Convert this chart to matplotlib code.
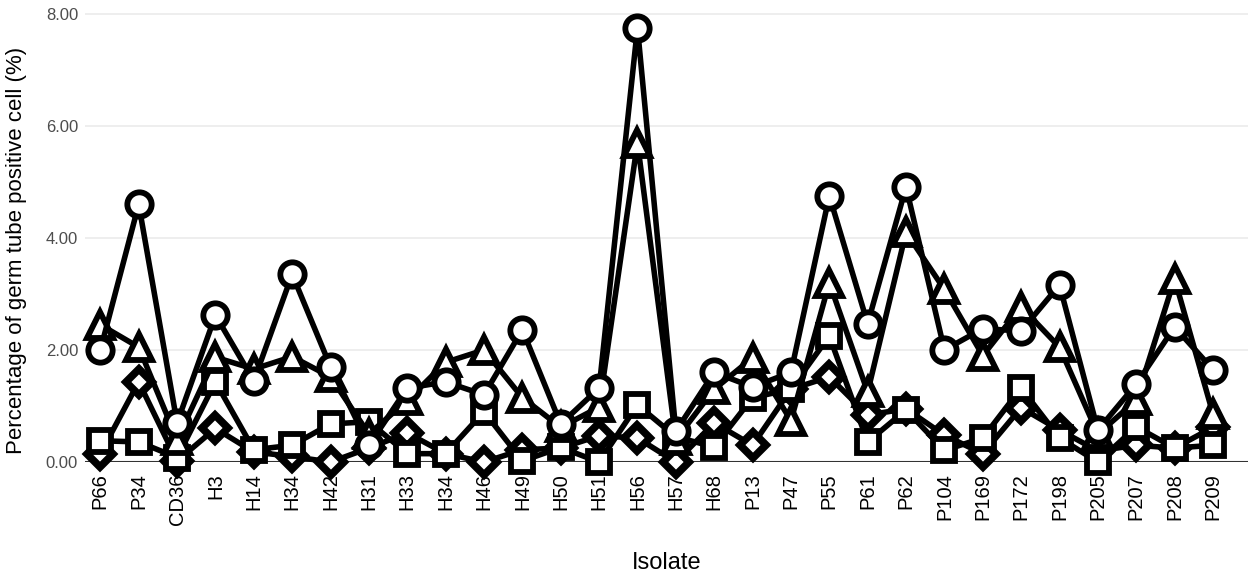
import matplotlib.pyplot as plt
import numpy as np

plt.rcParams['font.family'] = ['Liberation Sans', 'DejaVu Sans']

isolates = ['P66', 'P34', 'CD36', 'H3', 'H14', 'H34', 'H42', 'H31', 'H33', 'H34',
            'H46', 'H49', 'H50', 'H51', 'H56', 'H57', 'H68', 'P13', 'P47', 'P55',
            'P61', 'P62', 'P104', 'P169', 'P172', 'P198', 'P205', 'P207', 'P208', 'P209']

circle_vals = [2.0, 4.6, 0.7, 2.62, 1.45, 3.35, 1.7, 0.3, 1.32, 1.43,
               1.2, 2.36, 0.68, 1.32, 7.75, 0.55, 1.6, 1.34, 1.6, 4.75,
               2.47, 4.91, 2.0, 2.38, 2.34, 3.16, 0.57, 1.39, 2.41, 1.65]
triangle_vals = [2.45, 2.05, 0.4, 1.87, 1.66, 1.88, 1.52, 0.5, 1.1, 1.78,
                 2.0, 1.15, 0.62, 0.98, 5.7, 0.4, 1.3, 1.86, 0.74, 3.2,
                 1.25, 4.1, 3.08, 1.9, 2.77, 2.05, 0.5, 1.1, 3.27, 0.86]
square_vals = [0.38, 0.36, 0.08, 1.43, 0.22, 0.3, 0.68, 0.72, 0.15, 0.15,
               0.9, 0.02, 0.26, 0.0, 1.02, 0.45, 0.27, 1.15, 1.3, 2.25,
               0.36, 0.93, 0.21, 0.43, 1.32, 0.43, 0.0, 0.63, 0.25, 0.3]
diamond_vals = [0.15, 1.43, 0.02, 0.6, 0.18, 0.1, 0.0, 0.25, 0.52, 0.15,
                0.0, 0.22, 0.25, 0.47, 0.43, 0.0, 0.7, 0.3, 1.3, 1.52,
                0.84, 0.95, 0.48, 0.15, 0.97, 0.57, 0.2, 0.3, 0.25, 0.62]

x = np.arange(len(isolates))

fig = plt.figure(figsize=(12.5, 5.74), dpi=100)
ax = fig.add_axes([0.068, 0.195, 0.93, 0.786])

lw = 4.0
ax.plot(x, diamond_vals, color='black', lw=lw, marker='D', markersize=13,
        markerfacecolor='white', markeredgecolor='black', markeredgewidth=5.5, clip_on=False, zorder=3)
ax.plot(x, square_vals, color='black', lw=lw, marker='s', markersize=16,
        markerfacecolor='white', markeredgecolor='black', markeredgewidth=4.2, clip_on=False, zorder=4)
ax.plot(x, triangle_vals, color='black', lw=lw, marker='^', markersize=19,
        markerfacecolor='white', markeredgecolor='black', markeredgewidth=4.2, clip_on=False, zorder=5)
ax.plot(x, circle_vals, color='black', lw=lw, marker='o', markersize=17.5,
        markerfacecolor='white', markeredgecolor='black', markeredgewidth=4.2, clip_on=False, zorder=6)

ax.set_xlim(-0.4, 29.9)
ax.set_ylim(0, 8.05)
ax.set_yticks([0, 2, 4, 6, 8])
ax.set_yticklabels(['0.00', '2.00', '4.00', '6.00', '8.00'])
ax.set_xticks(x)
ax.set_xticklabels(isolates, rotation=90)

ax.grid(axis='y', color='#ebebeb', lw=1.2)
ax.set_axisbelow(True)
for s in ['top', 'right', 'left', 'bottom']:
    ax.spines[s].set_visible(False)
ax.axhline(0, color='#333333', lw=1.5, zorder=2)

ax.tick_params(axis='both', length=0)
ax.tick_params(axis='x', labelsize=14.5, pad=8, colors='black')
ax.tick_params(axis='y', labelsize=12, pad=5, labelcolor='#4d4d4d')

ax.set_xlabel('Isolate', fontsize=17, labelpad=20)
ax.set_ylabel('Percentage of germ tube positive cell (%)', fontsize=16)
ax.yaxis.set_label_coords(-0.05, 0.47)

fig.savefig('out.png', dpi=100)
